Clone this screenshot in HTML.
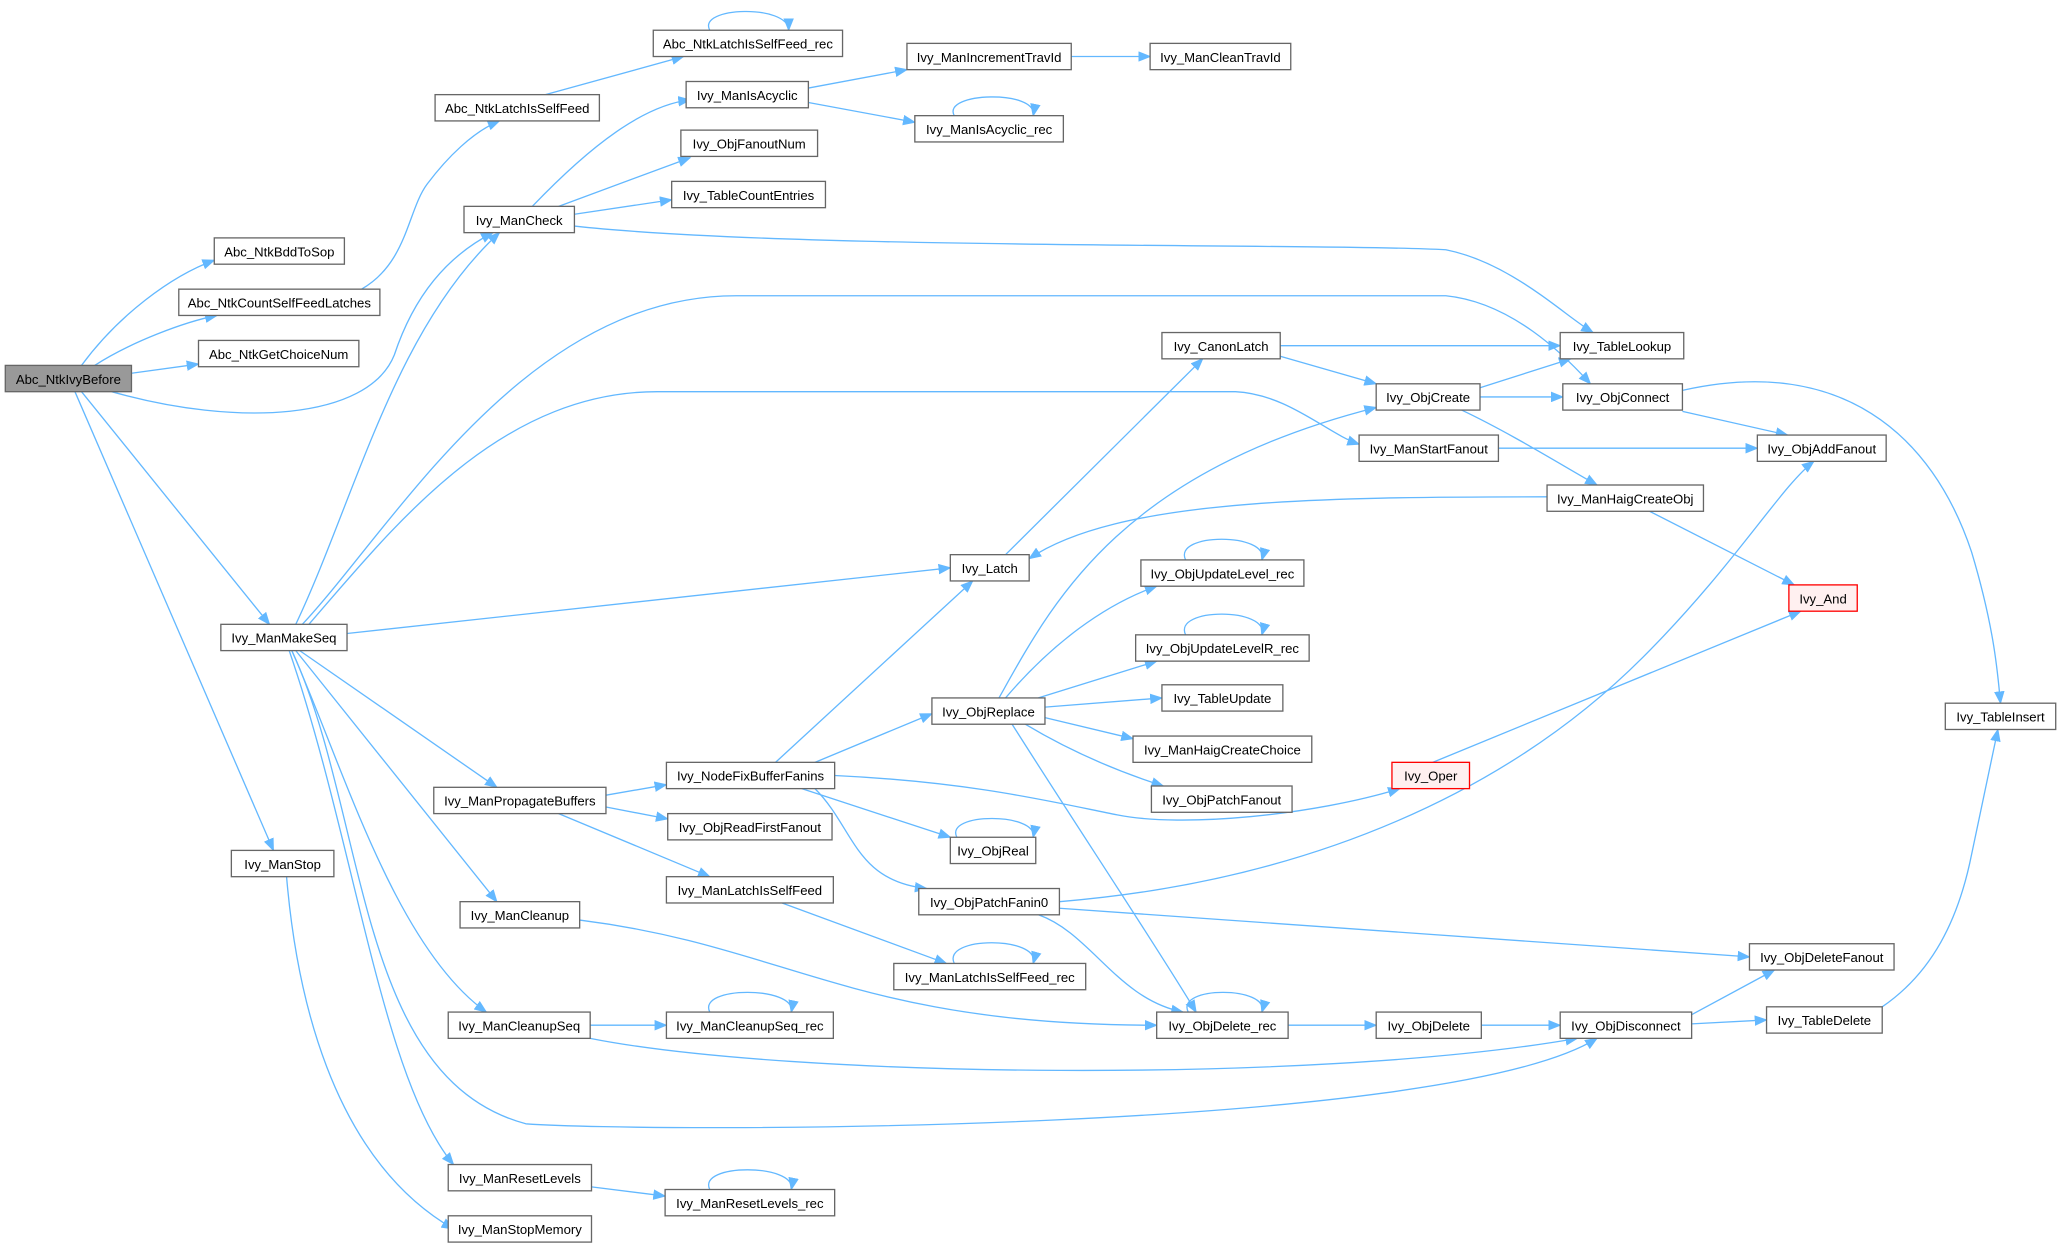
<!DOCTYPE html>
<html><head><meta charset="utf-8"><style>
html,body{margin:0;padding:0;background:#fff;}
svg{display:block;}
text{font-family:"Liberation Sans",Arial,sans-serif;font-size:10px;fill:#000;text-anchor:middle;}
.n{fill:#fff;stroke:#666;stroke-width:1;}
.e{fill:none;stroke:#63b8ff;stroke-width:1;marker-end:url(#a);}
</style></head><body>
<svg width="2061" height="1248" viewBox="0 0 1568 949.5" xmlns="http://www.w3.org/2000/svg">
<defs><marker id="a" markerWidth="10" markerHeight="8" refX="9" refY="4" orient="auto" markerUnits="userSpaceOnUse"><path d="M0,0 L10,4 L0,8 z" fill="#63b8ff"/></marker></defs>
<g>
<path class="e" d="M62,278 C90,240 130,210 163,198"/>
<path class="e" d="M72,278 C100,260 140,245 165,240"/>
<path class="e" d="M100,284 L151,277"/>
<path class="e" d="M85,298 C180,325 280,320 300,270 C315,225 340,195 375,177"/>
<path class="e" d="M62,298 L205,475"/>
<path class="e" d="M57,298 L208,647"/>
<path class="e" d="M275,220 C310,200 310,160 325,140 C340,120 360,100 380,92"/>
<path class="e" d="M415,72 L520,43"/>
<path class="e" d="M540,23 C530,5 600,3 600,23"/>
<path class="e" d="M405,157 C450,110 490,80 525,76"/>
<path class="e" d="M425,157 L525,120"/>
<path class="e" d="M437,163 L511,152"/>
<path class="e" d="M437,172 C600,190 1000,185 1100,190 C1150,200 1190,240 1212,253"/>
<path class="e" d="M615,67 L690,53"/>
<path class="e" d="M615,78 L696,93"/>
<path class="e" d="M726,88 C716,70 790,68 786,88"/>
<path class="e" d="M815,43 L875,43"/>
<path class="e" d="M225,475 C270,380 300,250 380,177"/>
<path class="e" d="M230,475 C300,400 400,225 560,225 L1100,225 C1150,230 1190,270 1210,292"/>
<path class="e" d="M235,475 C300,400 380,298 500,298 L940,298 C980,300 1010,330 1034,338"/>
<path class="e" d="M264,482 L723,432"/>
<path class="e" d="M228,495 L378,599"/>
<path class="e" d="M225,495 L378,686"/>
<path class="e" d="M222,495 C260,580 300,720 370,770"/>
<path class="e" d="M222,495 C280,620 270,820 400,855 C500,862 1100,862 1215,790"/>
<path class="e" d="M220,495 C270,640 290,820 345,886"/>
<path class="e" d="M218,667 C225,750 250,880 345,935"/>
<path class="e" d="M974,263 L1187,263"/>
<path class="e" d="M974,271 L1047,292"/>
<path class="e" d="M1126,295 L1195,273"/>
<path class="e" d="M1126,302 L1189,302"/>
<path class="e" d="M1112,312 C1150,330 1190,355 1215,369"/>
<path class="e" d="M1280,313 L1360,331"/>
<path class="e" d="M1280,297 C1400,270 1470,330 1500,420 C1518,480 1520,515 1522,535"/>
<path class="e" d="M1140,341 L1337,341"/>
<path class="e" d="M1177,378 C1000,378 850,380 783,425"/>
<path class="e" d="M1255,389 L1365,445"/>
<path class="e" d="M765,422 L915,273"/>
<path class="e" d="M760,531 C800,460 850,360 1047,310"/>
<path class="e" d="M765,531 C800,490 840,460 880,446"/>
<path class="e" d="M790,531 L880,503"/>
<path class="e" d="M795,538 L884,531"/>
<path class="e" d="M795,546 L862,562"/>
<path class="e" d="M780,551 C820,575 860,590 885,598"/>
<path class="e" d="M770,551 C820,630 880,720 910,770"/>
<path class="e" d="M902,426 C892,405 966,405 960,426"/>
<path class="e" d="M902,483 C892,462 966,462 960,483"/>
<path class="e" d="M590,580 L740,442"/>
<path class="e" d="M620,580 L709,543"/>
<path class="e" d="M635,590 C740,595 800,610 850,620 C900,630 1000,620 1065,600"/>
<path class="e" d="M610,600 L723,637"/>
<path class="e" d="M620,600 C650,630 650,670 705,676"/>
<path class="e" d="M728,637 C718,618 790,618 786,637"/>
<path class="e" d="M461,605 L507,597"/>
<path class="e" d="M461,614 L508,623"/>
<path class="e" d="M425,619 L540,667"/>
<path class="e" d="M595,687 L720,733"/>
<path class="e" d="M726,733 C716,712 792,712 786,733"/>
<path class="e" d="M806,686 C1000,670 1150,600 1250,500 C1320,430 1355,370 1380,351"/>
<path class="e" d="M806,691 L1331,728"/>
<path class="e" d="M790,696 C830,710 850,760 900,770"/>
<path class="e" d="M1090,580 L1370,465"/>
<path class="e" d="M441,700 C600,720 650,780 880,780"/>
<path class="e" d="M904,770 C894,750 966,750 960,770"/>
<path class="e" d="M980,780 L1047,780"/>
<path class="e" d="M1127,780 L1187,780"/>
<path class="e" d="M1287,772 L1350,738"/>
<path class="e" d="M1287,779 L1344,776"/>
<path class="e" d="M1432,766 C1470,740 1490,700 1500,650 L1520,555"/>
<path class="e" d="M449,780 L507,780"/>
<path class="e" d="M449,790 C600,820 1000,825 1200,790"/>
<path class="e" d="M540,770 C530,750 606,750 602,770"/>
<path class="e" d="M450,903 L506,910"/>
<path class="e" d="M540,905 C530,885 606,885 602,905"/>
</g>
<g>
<rect x="4" y="278" width="96" height="20" fill="#999" stroke="#666"/><text x="52" y="292">Abc_NtkIvyBefore</text>
<rect class="n" x="163" y="181" width="99" height="20"/><text x="212.5" y="195">Abc_NtkBddToSop</text>
<rect class="n" x="136" y="220" width="153" height="20"/><text x="212.5" y="234">Abc_NtkCountSelfFeedLatches</text>
<rect class="n" x="151" y="259" width="122" height="20"/><text x="212" y="273">Abc_NtkGetChoiceNum</text>
<rect class="n" x="497" y="23" width="144" height="20"/><text x="569" y="37">Abc_NtkLatchIsSelfFeed_rec</text>
<rect class="n" x="331" y="72" width="125" height="20"/><text x="393.5" y="86">Abc_NtkLatchIsSelfFeed</text>
<rect class="n" x="522" y="62" width="93" height="20"/><text x="568.5" y="76">Ivy_ManIsAcyclic</text>
<rect class="n" x="690" y="33" width="125" height="20"/><text x="752.5" y="47">Ivy_ManIncrementTravId</text>
<rect class="n" x="875" y="33" width="107" height="20"/><text x="928.5" y="47">Ivy_ManCleanTravId</text>
<rect class="n" x="696" y="88" width="113" height="20"/><text x="752.5" y="102">Ivy_ManIsAcyclic_rec</text>
<rect class="n" x="518" y="99" width="104" height="20"/><text x="570" y="113">Ivy_ObjFanoutNum</text>
<rect class="n" x="511" y="138" width="117" height="20"/><text x="569.5" y="152">Ivy_TableCountEntries</text>
<rect class="n" x="353" y="157" width="84" height="20"/><text x="395" y="171">Ivy_ManCheck</text>
<rect class="n" x="1187" y="253" width="94" height="20"/><text x="1234" y="267">Ivy_TableLookup</text>
<rect class="n" x="884" y="253" width="90" height="20"/><text x="929" y="267">Ivy_CanonLatch</text>
<rect class="n" x="1047" y="292" width="79" height="20"/><text x="1086.5" y="306">Ivy_ObjCreate</text>
<rect class="n" x="1189" y="292" width="91" height="20"/><text x="1234.5" y="306">Ivy_ObjConnect</text>
<rect class="n" x="1034" y="331" width="106" height="20"/><text x="1087" y="345">Ivy_ManStartFanout</text>
<rect class="n" x="1337" y="331" width="98" height="20"/><text x="1386" y="345">Ivy_ObjAddFanout</text>
<rect class="n" x="1177" y="369" width="119" height="20"/><text x="1236.5" y="383">Ivy_ManHaigCreateObj</text>
<rect x="1361" y="445" width="52" height="20" fill="#fff0f0" stroke="#f00"/><text x="1387" y="459">Ivy_And</text>
<rect class="n" x="1480" y="535" width="84" height="20"/><text x="1522" y="549">Ivy_TableInsert</text>
<rect class="n" x="723" y="422" width="60" height="20"/><text x="753" y="436">Ivy_Latch</text>
<rect class="n" x="868" y="426" width="124" height="20"/><text x="930" y="440">Ivy_ObjUpdateLevel_rec</text>
<rect class="n" x="864" y="483" width="132" height="20"/><text x="930" y="497">Ivy_ObjUpdateLevelR_rec</text>
<rect class="n" x="884" y="521" width="92" height="20"/><text x="930" y="535">Ivy_TableUpdate</text>
<rect class="n" x="709" y="531" width="86" height="20"/><text x="752" y="545">Ivy_ObjReplace</text>
<rect class="n" x="862" y="560" width="136" height="20"/><text x="930" y="574">Ivy_ManHaigCreateChoice</text>
<rect class="n" x="876" y="598" width="107" height="20"/><text x="929.5" y="612">Ivy_ObjPatchFanout</text>
<rect x="1059" y="580" width="59" height="20" fill="#fff0f0" stroke="#f00"/><text x="1088.5" y="594">Ivy_Oper</text>
<rect class="n" x="168" y="475" width="96" height="20"/><text x="216" y="489">Ivy_ManMakeSeq</text>
<rect class="n" x="330" y="599" width="131" height="20"/><text x="395.5" y="613">Ivy_ManPropagateBuffers</text>
<rect class="n" x="507" y="580" width="128" height="20"/><text x="571" y="594">Ivy_NodeFixBufferFanins</text>
<rect class="n" x="508" y="619" width="125" height="20"/><text x="570.5" y="633">Ivy_ObjReadFirstFanout</text>
<rect class="n" x="723" y="637" width="65" height="20"/><text x="755.5" y="651">Ivy_ObjReal</text>
<rect class="n" x="507" y="667" width="127" height="20"/><text x="570.5" y="681">Ivy_ManLatchIsSelfFeed</text>
<rect class="n" x="699" y="676" width="107" height="20"/><text x="752.5" y="690">Ivy_ObjPatchFanin0</text>
<rect class="n" x="176" y="647" width="78" height="20"/><text x="215" y="661">Ivy_ManStop</text>
<rect class="n" x="350" y="686" width="91" height="20"/><text x="395.5" y="700">Ivy_ManCleanup</text>
<rect class="n" x="680" y="733" width="146" height="20"/><text x="753" y="747">Ivy_ManLatchIsSelfFeed_rec</text>
<rect class="n" x="1331" y="718" width="110" height="20"/><text x="1386" y="732">Ivy_ObjDeleteFanout</text>
<rect class="n" x="880" y="770" width="100" height="20"/><text x="930" y="784">Ivy_ObjDelete_rec</text>
<rect class="n" x="1047" y="770" width="80" height="20"/><text x="1087" y="784">Ivy_ObjDelete</text>
<rect class="n" x="1187" y="770" width="100" height="20"/><text x="1237" y="784">Ivy_ObjDisconnect</text>
<rect class="n" x="1344" y="766" width="88" height="20"/><text x="1388" y="780">Ivy_TableDelete</text>
<rect class="n" x="341" y="770" width="108" height="20"/><text x="395" y="784">Ivy_ManCleanupSeq</text>
<rect class="n" x="507" y="770" width="127" height="20"/><text x="570.5" y="784">Ivy_ManCleanupSeq_rec</text>
<rect class="n" x="341" y="886" width="109" height="20"/><text x="395.5" y="900">Ivy_ManResetLevels</text>
<rect class="n" x="506" y="905" width="129" height="20"/><text x="570.5" y="919">Ivy_ManResetLevels_rec</text>
<rect class="n" x="341" y="925" width="109" height="20"/><text x="395.5" y="939">Ivy_ManStopMemory</text>
</g>
</svg>
</body></html>
